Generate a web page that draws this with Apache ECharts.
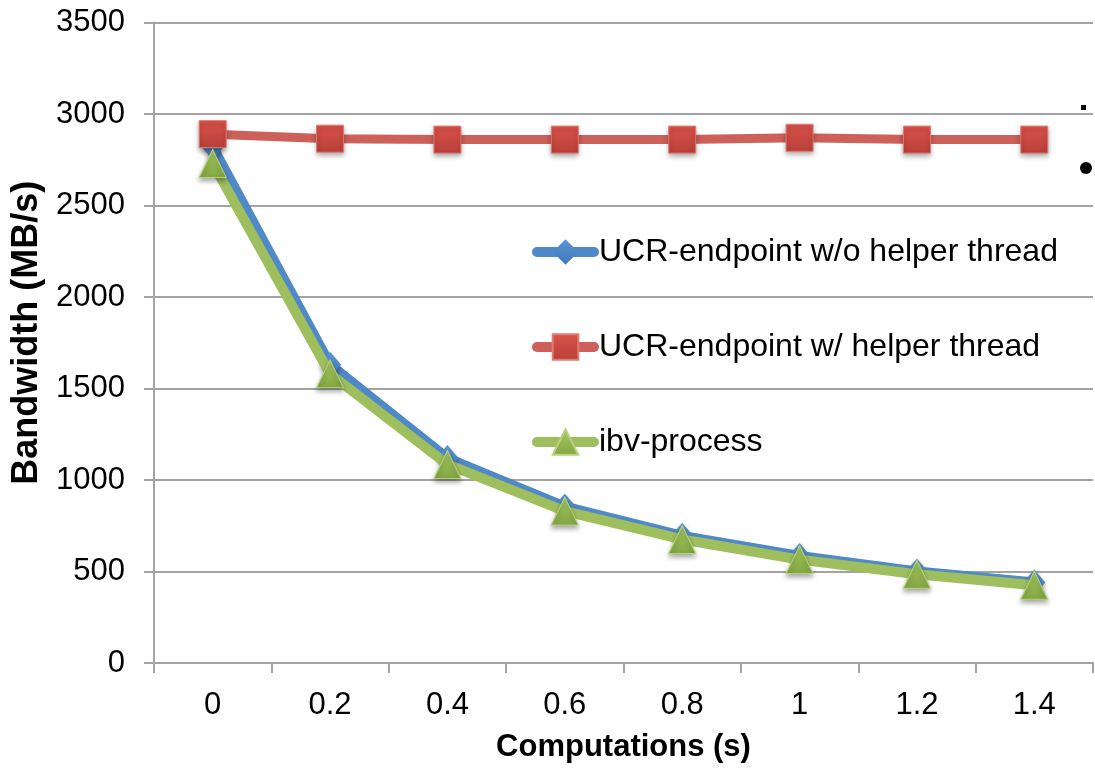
<!DOCTYPE html>
<html>
<head>
<meta charset="utf-8">
<script src="https://cdn.jsdelivr.net/npm/echarts@6/dist/echarts.min.js"></script>
<style>
  html, body { margin: 0; padding: 0; background: #fff; }
  #chart { width: 1095px; height: 772px; }
</style>
</head>
<body>
<div id="chart"></div>
<script>
// Bandwidth vs. computation time per message
const categories = ['0', '0.2', '0.4', '0.6', '0.8', '1', '1.2', '1.4'];
const noHelper = [2820, 1630, 1120, 855, 695, 585, 500, 440];
const withHelper = [2890, 2865, 2860, 2860, 2860, 2870, 2860, 2860];
const ibvProcess = [2730, 1580, 1085, 830, 675, 565, 485, 425];
const seriesNames = [
  'UCR-endpoint w/o helper thread',
  'UCR-endpoint w/ helper thread',
  'ibv-process'
];
const yTicks = { min: 0, max: 3500, interval: 500 };

const FONT = '"Liberation Sans", Arial, sans-serif';
const GRID_GREY = '#a3a3a3';

function grad(top, bottom) {
  return new echarts.graphic.LinearGradient(0, 0, 0, 1, [
    { offset: 0, color: top },
    { offset: 1, color: bottom }
  ]);
}

const markerShadow = {
  shadowBlur: 5,
  shadowOffsetY: 3,
  shadowColor: 'rgba(0,0,0,0.35)'
};

const chart = echarts.init(document.getElementById('chart'), null, { renderer: 'canvas' });

chart.setOption({
  backgroundColor: '#ffffff',
  animation: false,
  grid: { left: 154, right: 2, top: 22.5, bottom: 109, containLabel: false },
  legend: {
    orient: 'vertical',
    left: 532,
    top: 236,
    padding: 0,
    itemWidth: 57,
    itemHeight: 32,
    itemGap: 63,
    lineStyle: { width: 10, cap: 'round' },
    textStyle: { fontFamily: FONT, fontSize: 32, color: '#000' },
    data: seriesNames
  },
  xAxis: {
    type: 'category',
    data: categories,
    boundaryGap: true,
    name: 'Computations (s)',
    nameLocation: 'middle',
    nameGap: 69,
    nameTextStyle: { fontFamily: FONT, fontSize: 31, fontWeight: 'bold', color: '#000' },
    axisLine: { lineStyle: { color: GRID_GREY, width: 2 } },
    axisTick: { show: true, length: 10, alignWithLabel: false, lineStyle: { color: GRID_GREY, width: 2 } },
    axisLabel: { fontFamily: FONT, fontSize: 31, color: '#000', margin: 27 },
    splitLine: { show: false }
  },
  yAxis: {
    type: 'value',
    min: yTicks.min,
    max: yTicks.max,
    interval: yTicks.interval,
    name: 'Bandwidth (MB/s)',
    nameLocation: 'middle',
    nameGap: 97,
    nameRotate: 90,
    nameTextStyle: {
      fontFamily: FONT, fontSize: 36, fontWeight: 'bold', color: '#000',
      padding: [0, 0, 0, 20]
    },
    axisLine: { show: true, lineStyle: { color: GRID_GREY, width: 2 } },
    axisTick: { show: true, length: 10, lineStyle: { color: GRID_GREY, width: 2 } },
    axisLabel: {
      fontFamily: FONT, fontSize: 31, color: '#000', margin: 29,
      formatter: (v) => String(v)
    },
    splitLine: { show: true, lineStyle: { color: GRID_GREY, width: 2 } }
  },
  series: [
    {
      name: seriesNames[0],
      type: 'line',
      data: noHelper,
      symbol: 'diamond',
      symbolSize: [22, 26],
      lineStyle: { color: '#4f89c7', width: 10 },
      itemStyle: Object.assign({ color: grad('#5b95d3', '#3f78b8') }, markerShadow),
      z: 2
    },
    {
      name: seriesNames[1],
      type: 'line',
      data: withHelper,
      symbol: 'rect',
      symbolSize: 27,
      lineStyle: { color: '#cd6058', width: 9 },
      itemStyle: Object.assign({ color: grad('#db5249', '#b7403a'), borderColor: '#e07a72', borderWidth: 1 }, markerShadow),
      z: 3
    },
    {
      name: seriesNames[2],
      type: 'line',
      data: ibvProcess,
      symbol: 'triangle',
      symbolSize: [27, 28],
      lineStyle: { color: '#9fbf5f', width: 10 },
      itemStyle: Object.assign({ color: grad('#a7ca62', '#82a642'), borderColor: '#b6d37c', borderWidth: 1 }, markerShadow),
      z: 4
    }
  ],
  graphic: [
    { type: 'rect', left: 1081, top: 105, shape: { width: 5, height: 5 }, style: { fill: '#000' } },
    { type: 'circle', left: 1080, top: 162, shape: { r: 6 }, style: { fill: '#000' } }
  ]
});
</script>
</body>
</html>
